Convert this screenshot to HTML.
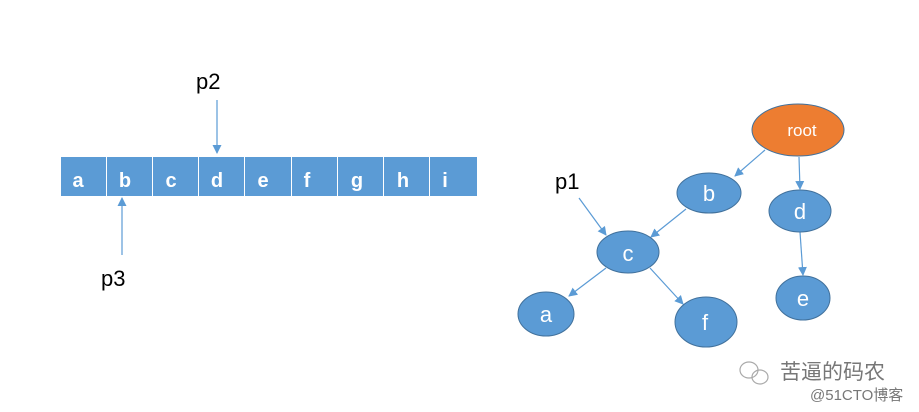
<!DOCTYPE html>
<html><head><meta charset="utf-8"><style>
html,body{margin:0;padding:0;background:#fff;}
svg{display:block;}
</style></head><body>
<svg width="919" height="412" viewBox="0 0 919 412" xmlns="http://www.w3.org/2000/svg" font-family="Liberation Sans, sans-serif">
<defs>
<marker id="ar" markerWidth="9" markerHeight="9" refX="8" refY="4.5" orient="auto" markerUnits="userSpaceOnUse">
<path d="M0,0 L9,4.5 L0,9 z" fill="#5b9bd5"/>
</marker>
</defs>
<g fill="#5b9bd5">
<rect x="61" y="157" width="45" height="39"/>
<rect x="107" y="157" width="45" height="39"/>
<rect x="153" y="157" width="45" height="39"/>
<rect x="199" y="157" width="45" height="39"/>
<rect x="245" y="157" width="46" height="39"/>
<rect x="292" y="157" width="45" height="39"/>
<rect x="338" y="157" width="45" height="39"/>
<rect x="384" y="157" width="45" height="39"/>
<rect x="430" y="157" width="47" height="39"/>
</g>
<g fill="#fff" font-weight="bold" font-size="20" text-anchor="middle">
<text x="78" y="187">a</text>
<text x="125" y="187">b</text>
<text x="171" y="187">c</text>
<text x="217" y="187">d</text>
<text x="263" y="187">e</text>
<text x="307" y="187">f</text>
<text x="357" y="187">g</text>
<text x="403" y="187">h</text>
<text x="445" y="187">i</text>
</g>
<g stroke="#5b9bd5" stroke-width="1.2" fill="none" marker-end="url(#ar)">
<line x1="217" y1="100" x2="217" y2="153"/>
<line x1="122" y1="255" x2="122" y2="198"/>
<line x1="765" y1="150" x2="735" y2="176"/>
<line x1="799" y1="157" x2="800" y2="189"/>
<line x1="686" y1="209" x2="651" y2="237"/>
<line x1="579" y1="198" x2="606" y2="235"/>
<line x1="606" y1="268" x2="569" y2="296"/>
<line x1="650" y1="268" x2="683" y2="304"/>
<line x1="800" y1="232" x2="803" y2="275"/>
</g>
<g font-size="22" fill="#000">
<text x="196" y="89">p2</text>
<text x="101" y="286">p3</text>
<text x="555" y="189">p1</text>
</g>
<g stroke="#41719c" stroke-width="1">
<ellipse cx="798" cy="130" rx="46" ry="26" fill="#ed7d31"/>
<ellipse cx="709" cy="193" rx="32" ry="20" fill="#5b9bd5"/>
<ellipse cx="800" cy="211" rx="31" ry="21" fill="#5b9bd5"/>
<ellipse cx="628" cy="252" rx="31" ry="21" fill="#5b9bd5"/>
<ellipse cx="546" cy="314" rx="28" ry="22" fill="#5b9bd5"/>
<ellipse cx="706" cy="322" rx="31" ry="25" fill="#5b9bd5"/>
<ellipse cx="803" cy="298" rx="27" ry="22" fill="#5b9bd5"/>
</g>
<g fill="#fff" font-size="22" text-anchor="middle">
<text x="802" y="136" font-size="17">root</text>
<text x="709" y="201">b</text>
<text x="800" y="219">d</text>
<text x="628" y="261">c</text>
<text x="546" y="322">a</text>
<text x="705" y="330">f</text>
<text x="803" y="306">e</text>
</g>
<g fill="none" stroke="#aaa" stroke-width="1.2">
<ellipse cx="749" cy="370" rx="9" ry="8"/>
<ellipse cx="760" cy="377" rx="8" ry="7"/>
</g>
<text x="780" y="379" font-size="21" fill="#777" font-family="Liberation Sans, Noto Sans CJK SC, sans-serif">苦逼的码农</text>
<text x="810" y="400" font-size="15" fill="#777" font-family="Liberation Sans, Noto Sans CJK SC, sans-serif">@51CTO博客</text>
</svg>
</body></html>
